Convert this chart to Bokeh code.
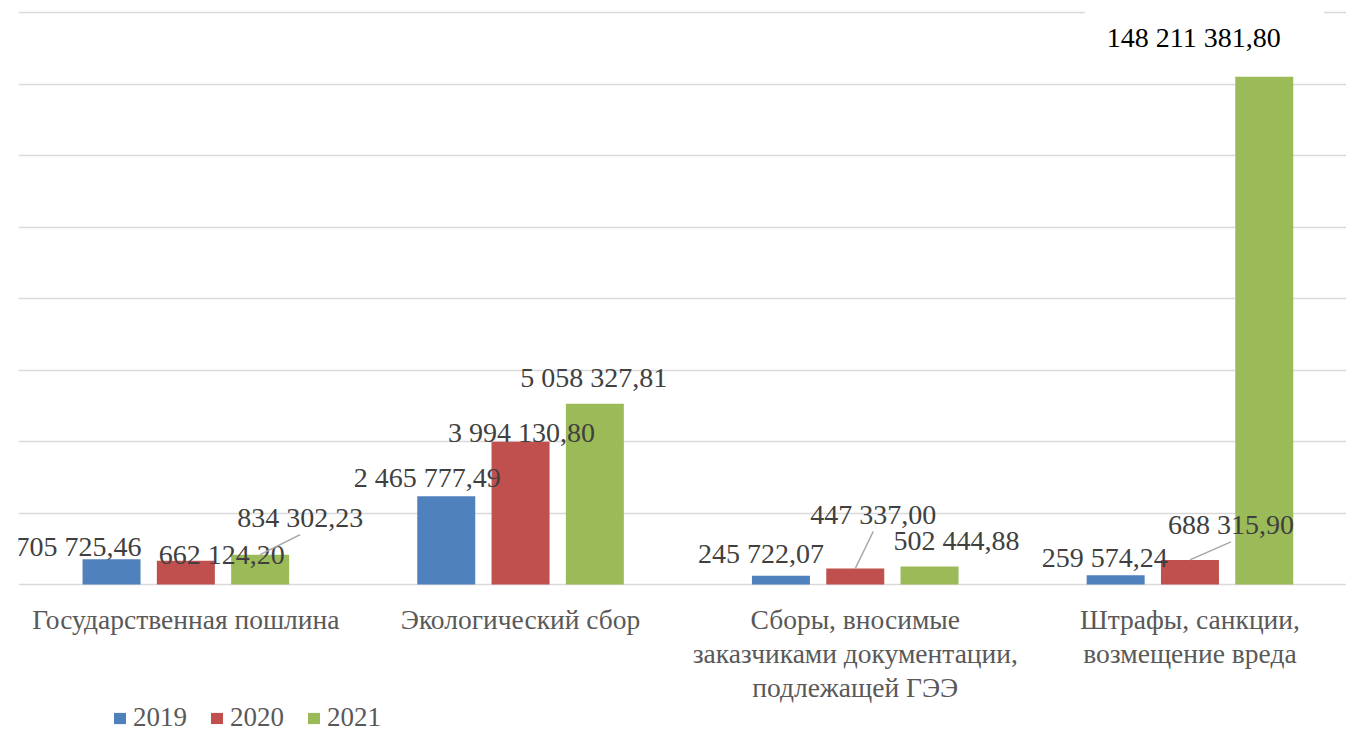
from bokeh.plotting import figure
from bokeh.models import Range1d, FixedTicker, Legend, LegendItem, ColumnDataSource
from bokeh.core.properties import value
from bokeh.embed import file_html
from bokeh.resources import INLINE

# ---------------- data ----------------
categories = [
    "Государственная пошлина",
    "Экологический сбор",
    "Сборы, вносимые\nзаказчиками документации,\nподлежащей ГЭЭ",
    "Штрафы, санкции,\nвозмещение вреда",
]
years = ["2019", "2020", "2021"]
values_2019 = [705725.46, 2465777.49, 245722.07, 259574.24]
values_2020 = [662124.20, 3994130.80, 447337.00, 688315.90]
values_2021 = [834302.23, 5058327.81, 502444.88, 148211381.80]
# the reference uses a broken scale: bars above this value are drawn truncated
bar_cap = 14_200_000
grid_step = 2_000_000
grid_max = 16_000_000

# ---------------- styles / layout ----------------
colors = ["#4f81bd", "#c0504d", "#9bbb59"]
FONT_NAME = "Liberation Serif"
FONT = value(FONT_NAME)
W, H = 1346, 733
LEFT = 18
FRAME_W, FRAME_H = W - LEFT, H
BASE_PX = 584                 # baseline, px from top
GRID_PX = 572                 # px from 0 to grid_max
CAT_PX = 334.7
x_end = FRAME_W / CAT_PX
uy = grid_max / GRID_PX       # data units per pixel, y
ux = x_end / FRAME_W          # data units per pixel, x
y_start = -(H - BASE_PX) * uy
y_end = BASE_PX * uy
bar_w = 58 / CAT_PX
bar_off = [-74.3 / CAT_PX, 0.0, 74.3 / CAT_PX]

# label offsets in px relative to the bar top (dx right, dy up), as placed in the reference
label_dx = [[-33, -19, -20, -11], [36, 1, 18, 41], [40, -1, 27, -60]]
label_dy = [[13, 19, 22, 18], [6, 9, 54, 35], [37, 26, 26, 39]]
leader = [[False] * 4, [False, False, True, True], [True, False, False, False]]


def fmt(v):
    return f"{v:,.2f}".replace(",", " ").replace(".", ",")


p = figure(width=W, height=H, output_backend="svg", toolbar_location=None,
           x_range=Range1d(0, x_end), y_range=Range1d(y_start, y_end),
           min_border_left=LEFT, min_border_right=0, min_border_top=0,
           min_border_bottom=0, x_axis_location=None, y_axis_location=None)
p.outline_line_color = None
p.background_fill_color = "white"
p.border_fill_color = "white"
p.xgrid.visible = False
p.ygrid.ticker = FixedTicker(ticks=list(range(0, grid_max + 1, grid_step)))
p.ygrid.grid_line_color = "#d9d9d9"
p.ygrid.grid_line_width = 1.5

cat_x = [i + 0.5 for i in range(len(categories))]
# category labels under the baseline
p.text(x=cat_x, y=[-19 * uy] * len(cat_x), text=categories, text_font=FONT,
       text_font_size="27.5px", text_color="#595959", text_align="center",
       text_baseline="top", text_line_height=1.1)

series = [values_2019, values_2020, values_2021]
items = []
label_jobs = []
for k, (yr, vals) in enumerate(zip(years, series)):
    xs = [c + bar_off[k] for c in cat_x]
    tops = [min(v, bar_cap) for v in vals]
    src = ColumnDataSource(dict(x=xs, top=tops))
    r = p.vbar(x="x", top="top", width=bar_w, source=src,
               fill_color=colors[k], line_color=None)
    items.append(LegendItem(label=yr, renderers=[r]))
    label_jobs.append((k, vals, xs, tops))

# data labels and leader lines drawn above all bars
for k, vals, xs, tops in label_jobs:
    lx = [x + dx * ux for x, dx in zip(xs, label_dx[k])]
    ly = [t + dy * uy for t, dy in zip(tops, label_dy[k])]
    texts = [fmt(v) for v in vals]

    seg = [i for i in range(len(vals)) if leader[k][i]]
    if seg:
        p.segment(x0=[xs[i] for i in seg], y0=[tops[i] for i in seg],
                  x1=[lx[i] for i in seg], y1=[ly[i] - 17 * uy for i in seg],
                  line_color="#a6a6a6", line_width=1.5)

    normal = [i for i in range(len(vals)) if vals[i] <= bar_cap]
    boxed = [i for i in range(len(vals)) if vals[i] > bar_cap]
    if normal:
        p.text(x=[lx[i] for i in normal], y=[ly[i] for i in normal],
               text=[texts[i] for i in normal], text_font=FONT,
               text_font_size="28px", text_color="#404040",
               text_align="center", text_baseline="middle")
    if boxed:
        p.text(x=[lx[i] for i in boxed], y=[ly[i] for i in boxed],
               text=[texts[i] for i in boxed], text_font=FONT,
               text_font_size="28px", text_color="#000000",
               text_align="center", text_baseline="middle",
               background_fill_color="white",
               padding=dict(left=22, right=43, top=16, bottom=16))

legend = Legend(items=items, orientation="horizontal", location=(94, 0),
                label_text_font=FONT_NAME, label_text_font_size="27px",
                label_text_color="#595959", glyph_width=15, glyph_height=14,
                label_standoff=6, spacing=22, padding=0, margin=0,
                border_line_color=None, background_fill_alpha=0)
p.add_layout(legend, "center")

open("out.html", "w").write(file_html(p, INLINE))
